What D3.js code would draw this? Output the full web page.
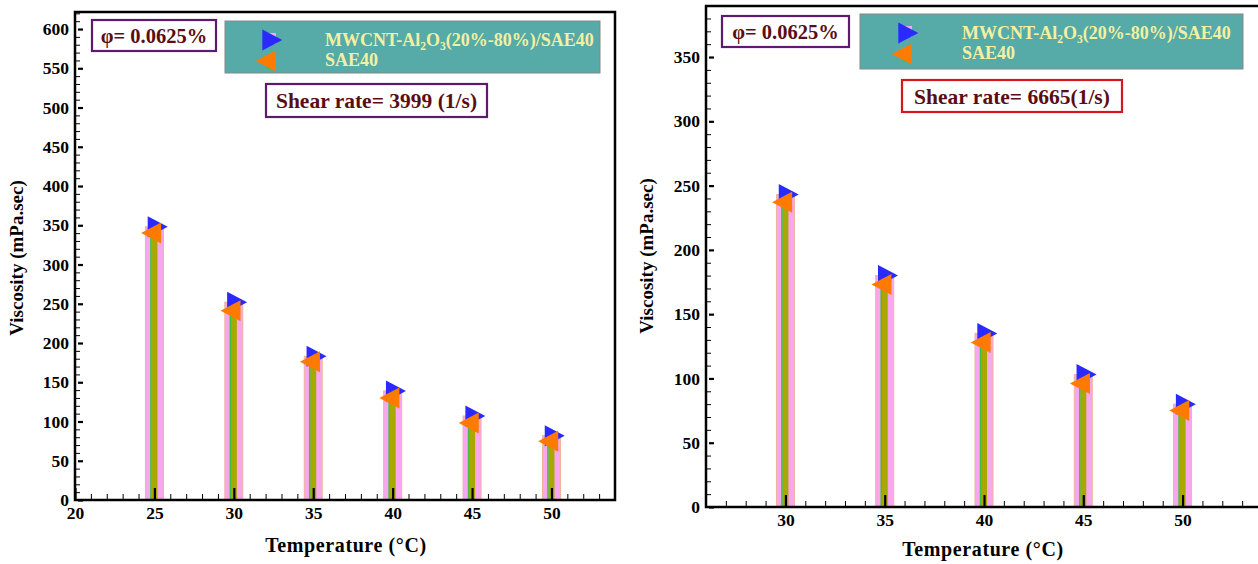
<!DOCTYPE html>
<html>
<head>
<meta charset="utf-8">
<script src="https://cdn.jsdelivr.net/npm/d3@7"></script>
<style>
  html, body { margin: 0; padding: 0; background: #fff; }
  svg { display: block; font-family: "Liberation Serif", "DejaVu Serif", serif; }
  text { font-family: "Liberation Serif", "DejaVu Serif", serif !important; font-weight: bold; }
  .tick text { font-size: 17.5px !important; fill: #000; }
</style>
</head>
<body>
<svg id="chart" width="1258" height="564"></svg>
<script>
// Viscosity of SAE40 and MWCNT-Al2O3/SAE40 against temperature, two shear rates
const temperaturesA = [25, 30, 35, 40, 45, 50];
const nanofluidA = [348, 252, 183, 139, 107, 82];
const baseOilA = [340, 241, 176, 130, 98, 75];

const temperaturesB = [30, 35, 40, 45, 50];
const nanofluidB = [243, 180, 135, 103, 80];
const baseOilB = [237, 173, 128, 96, 75];

const seriesNames = ["MWCNT-Al2O3(20%-80%)/SAE40", "SAE40"];
const fractionLabel = "φ= 0.0625%";
const shearLabels = ["Shear rate= 3999 (1/s)", "Shear rate= 6665(1/s)"];
const xTitle = "Temperature (°C)";
const yTitle = "Viscosity (mPa.sec)";

const xTicksA = [20, 25, 30, 35, 40, 45, 50];
const yTicksA = [0, 50, 100, 150, 200, 250, 300, 350, 400, 450, 500, 550, 600];
const xTicksB = [30, 35, 40, 45, 50];
const yTicksB = [0, 50, 100, 150, 200, 250, 300, 350];

const C = {
  blue: "#2a2aff", orange: "#ff7a00", pink: "#f8a6ee", peach: "#eeb49a",
  olive: "#a8a800", green: "#3fc03f", teal: "#56aaa8", text: "#5a0d12",
  purple: "#5e1a6e", red: "#d8141c", legendText: "#f4f0a2"
};
const FONT = "'Liberation Serif', 'DejaVu Serif', serif";

const svg = d3.select("#chart");

function rangeStep(a, b, s) { const out = []; for (let v = a; v <= b + 1e-9; v += s) out.push(+v.toFixed(6)); return out; }

function panel(o) {
  const g = svg.append("g");
  const x = d3.scaleLinear().domain(o.xDomain).range([o.left, o.right]);
  const y = d3.scaleLinear().domain(o.yDomain).range([o.bottom, o.top]);

  // bars: wide pink for the nanofluid, narrow olive for the base oil
  g.selectAll(".barA").data(o.temps).join("rect")
    .attr("x", (d) => x(d) - 9).attr("width", 18)
    .attr("y", (d, i) => y(o.nano[i])).attr("height", (d, i) => y(0) - y(o.nano[i]))
    .attr("fill", C.pink).attr("stroke", C.peach).attr("stroke-width", 1);
  g.selectAll(".barB").data(o.temps).join("rect")
    .attr("x", (d) => x(d) - 3).attr("width", 6)
    .attr("y", (d, i) => y(o.base[i])).attr("height", (d, i) => y(0) - y(o.base[i]))
    .attr("fill", C.olive);
  g.selectAll(".barBedge").data(o.temps).join("line")
    .attr("x1", (d) => x(d) - 3.5).attr("x2", (d) => x(d) - 3.5)
    .attr("y1", (d, i) => y(o.base[i])).attr("y2", y(0))
    .attr("stroke", C.green).attr("stroke-width", 1.5);

  // axes with inward ticks
  const majX = o.xTicks, minX = rangeStep(Math.ceil(o.xDomain[0]), Math.floor(o.xDomain[1]), 1).filter((v) => !majX.includes(v));
  const majY = o.yTicks, minY = rangeStep(0, o.yDomain[1], 10).filter((v) => !majY.includes(v));

  const axB = g.append("g").attr("transform", `translate(0,${o.bottom})`)
    .call(d3.axisBottom(x).tickValues(majX).tickSize(-12).tickPadding(7).tickFormat(d3.format("d")));
  g.append("g").attr("transform", `translate(0,${o.bottom})`)
    .call(d3.axisBottom(x).tickValues(minX).tickSize(-6).tickFormat(""));
  const axL = g.append("g").attr("transform", `translate(${o.left},0)`)
    .call(d3.axisLeft(y).tickValues(majY).tickSize(-8).tickPadding(6).tickFormat(d3.format("d")));
  g.append("g").attr("transform", `translate(${o.left},0)`)
    .call(d3.axisLeft(y).tickValues(minY).tickSize(-5).tickFormat(""));
  g.selectAll(".domain").remove();
  g.selectAll("g").attr("font-family", FONT).attr("font-size", null);
  g.selectAll(".tick line").attr("stroke", "#000").attr("stroke-width", 1);
  axB.selectAll(".tick line").attr("stroke-width", 2.2);
  axL.selectAll(".tick line").attr("stroke-width", 2.2).attr("x1", 3);
  g.selectAll(".tick text").style("font-size", "17.5px").style("font-weight", "bold").attr("fill", "#000");

  // frame
  g.append("rect").attr("x", o.left).attr("y", o.top)
    .attr("width", o.right - o.left).attr("height", o.bottom - o.top)
    .attr("fill", "none").attr("stroke", "#000").attr("stroke-width", 2.5);

  // markers, placed on their centroids
  const right = [[-6.7, -10.5], [-6.7, 10.5], [13.3, 0]];
  const leftT = [[6.7, -10.5], [6.7, 10.5], [-13.3, 0]];
  const tri = (pts) => "M" + pts.map((p) => p.join(",")).join("L") + "Z";
  g.selectAll(".mA").data(o.temps).join("path")
    .attr("d", tri(right)).attr("fill", C.blue)
    .attr("transform", (d, i) => `translate(${x(d)},${y(o.nano[i])})`);
  g.selectAll(".mB").data(o.temps).join("path")
    .attr("d", tri(leftT)).attr("fill", C.orange)
    .attr("transform", (d, i) => `translate(${x(d)},${y(o.base[i])})`);

  // axis titles
  g.append("text").attr("x", o.xTitlePos[0]).attr("y", o.xTitlePos[1])
    .attr("text-anchor", "middle").attr("font-size", 20).attr("letter-spacing", 0.6).text(xTitle);
  g.append("text").attr("transform", `translate(${o.yTitlePos[0]},${o.yTitlePos[1]}) rotate(-90)`)
    .attr("text-anchor", "middle").attr("font-size", 19).text(yTitle);

  // volume fraction box
  const pb = o.phiBox;
  g.append("rect").attr("x", pb[0]).attr("y", pb[1]).attr("width", pb[2]).attr("height", pb[3])
    .attr("fill", "#fff").attr("stroke", C.purple).attr("stroke-width", 2.2);
  g.append("text").attr("x", pb[0] + pb[2] / 2).attr("y", pb[1] + pb[3] / 2 + 7)
    .attr("text-anchor", "middle").attr("font-size", 20.5).attr("fill", C.text).text(fractionLabel);

  // legend
  const lb = o.legendBox;
  g.append("rect").attr("x", lb[0]).attr("y", lb[1]).attr("width", lb[2]).attr("height", lb[3])
    .attr("fill", C.teal).attr("stroke", "#888").attr("stroke-width", 1);
  const mx = lb[0] + o.legendMarkerDx;
  const r1 = lb[1] + 19, r2 = lb[1] + 40;
  g.append("rect").attr("x", mx - 1).attr("y", r1 - 7).attr("width", 8).attr("height", 11).attr("fill", C.pink);
  g.append("rect").attr("x", mx - 2).attr("y", r2 - 6).attr("width", 6).attr("height", 14).attr("fill", C.green);
  g.append("path").attr("d", tri(right)).attr("fill", C.blue).attr("transform", `translate(${mx},${r1})`);
  g.append("path").attr("d", tri(leftT)).attr("fill", C.orange).attr("transform", `translate(${mx},${r2})`);
  const tx = lb[0] + o.legendTextDx;
  const t1 = g.append("text").attr("x", tx).attr("y", r1 + 6).attr("font-size", 18).attr("fill", C.legendText);
  t1.append("tspan").text("MWCNT-Al");
  t1.append("tspan").attr("font-size", 11.5).attr("dy", 4).text("2");
  t1.append("tspan").attr("dy", -4).text("O");
  t1.append("tspan").attr("font-size", 11.5).attr("dy", 4).text("3");
  t1.append("tspan").attr("dy", -4).text("(20%-80%)/SAE40");
  g.append("text").attr("x", tx).attr("y", r2 + 5).attr("font-size", 18).attr("fill", C.legendText).text(seriesNames[1]);

  // shear rate box
  const sb = o.shearBox;
  g.append("rect").attr("x", sb[0]).attr("y", sb[1]).attr("width", sb[2]).attr("height", sb[3])
    .attr("fill", "#fff").attr("stroke", o.shearStroke).attr("stroke-width", 2.2);
  g.append("text").attr("x", sb[0] + sb[2] / 2).attr("y", sb[1] + sb[3] / 2 + 7.5)
    .attr("text-anchor", "middle").attr("font-size", 21.5).attr("fill", C.text).text(o.shearText);
}

panel({
  temps: temperaturesA, nano: nanofluidA, base: baseOilA,
  xDomain: [20, 54], yDomain: [0, 621.7],
  left: 75, right: 615, top: 12, bottom: 500,
  xTicks: xTicksA, yTicks: yTicksA,
  xTitlePos: [346, 552], yTitlePos: [23, 258],
  phiBox: [92, 20, 124, 31],
  legendBox: [225, 21, 375, 52], legendMarkerDx: 44, legendTextDx: 100,
  shearBox: [266, 84, 221, 33], shearStroke: C.purple, shearText: shearLabels[0]
});

panel({
  temps: temperaturesB, nano: nanofluidB, base: baseOilB,
  xDomain: [26, 54], yDomain: [0, 389.7],
  left: 706, right: 1262, top: 6, bottom: 507,
  xTicks: xTicksB, yTicks: yTicksB,
  xTitlePos: [983, 556], yTitlePos: [653, 256],
  phiBox: [722, 16, 127, 31],
  legendBox: [860, 14, 383, 55], legendMarkerDx: 45, legendTextDx: 102,
  shearBox: [902, 80, 220, 32], shearStroke: C.red, shearText: shearLabels[1]
});
</script>
</body>
</html>
